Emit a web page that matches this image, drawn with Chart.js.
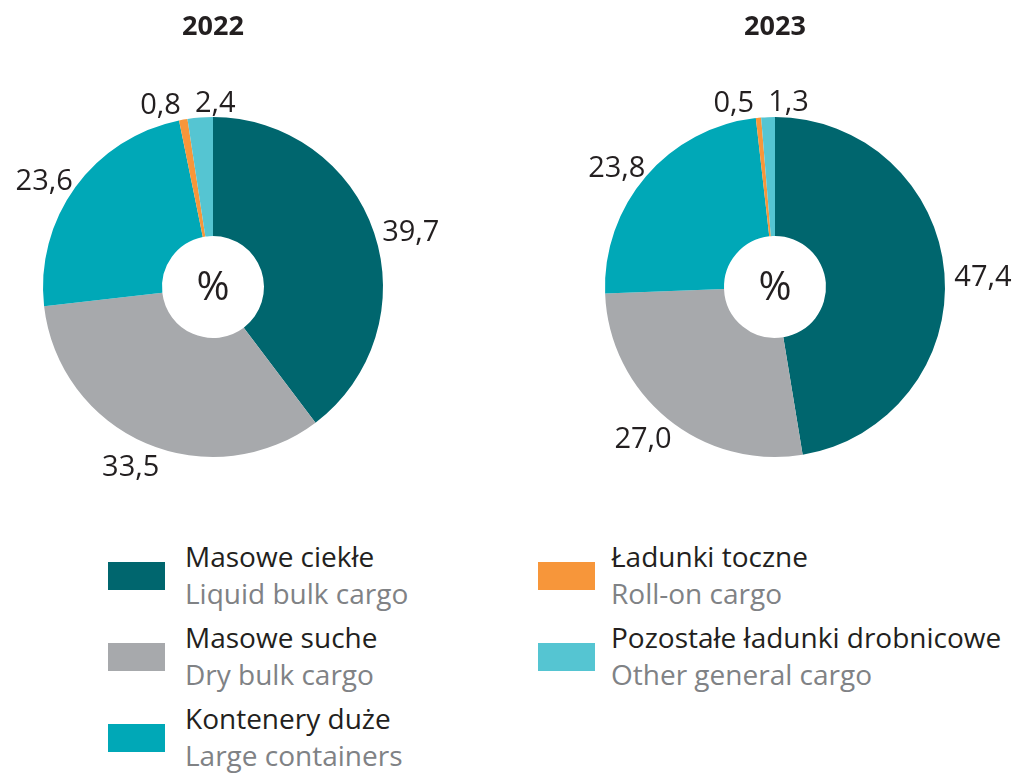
<!DOCTYPE html>
<html>
<head>
<meta charset="utf-8">
<script src="https://cdn.jsdelivr.net/npm/chart.js@4"></script>
<style>
  body { margin: 0; background: #fff; font-family: "Open Sans", Lato, sans-serif; }
  #wrap { position: relative; width: 1017px; height: 773px; overflow: hidden; }
  canvas { position: absolute; top: 0; }
  .title { position: absolute; top: 6px; width: 200px; text-align: center; font-weight: bold; font-size: 27px; color: #231f20; }
  .swatch { position: absolute; width: 57px; height: 28px; }
  .pl { position: absolute; white-space: nowrap; font-size: 28px; line-height: 38px; color: #231f20; }
  .en { position: absolute; white-space: nowrap; font-size: 28px; line-height: 38px; color: #808285; }
</style>
</head>
<body>
<div id="wrap">
  <canvas id="chart2022" width="470" height="520" style="left:0px"></canvas>
  <canvas id="chart2023" width="517" height="520" style="left:500px"></canvas>
  <div class="title" style="left:113px">2022</div>
  <div class="title" style="left:675px">2023</div>
  <div id="legend"></div>
</div>
<script>
const categoriesPl = ['Masowe ciekłe', 'Masowe suche', 'Kontenery duże', 'Ładunki toczne', 'Pozostałe ładunki drobnicowe'];
const categoriesEn = ['Liquid bulk cargo', 'Dry bulk cargo', 'Large containers', 'Roll-on cargo', 'Other general cargo'];
const colors = ['#00666e', '#a7a9ac', '#00a8b7', '#f7963a', '#55c5d2'];
const values2022 = [39.7, 33.5, 23.6, 0.8, 2.4];
const values2023 = [47.4, 27.0, 23.8, 0.5, 1.3];

const fmt = v => v.toFixed(1).replace('.', ',');

// labels outside the slices + "%" in the hole
const outsideLabels = {
    id: 'outsideLabels',
    afterDatasetsDraw(chart) {
        const ctx = chart.ctx;
        const meta = chart.getDatasetMeta(0);
        const data = chart.data.datasets[0].data;
        ctx.save();
        ctx.font = '29px "Open Sans", Lato, sans-serif';
        ctx.fillStyle = '#231f20';
        ctx.textAlign = 'center';
        ctx.textBaseline = 'middle';
        const boxes = meta.data.map((arc, i) => {
            const p = arc.getProps(['x', 'y', 'startAngle', 'endAngle', 'outerRadius'], true);
            const a = (p.startAngle + p.endAngle) / 2;
            const text = fmt(data[i]);
            const w = ctx.measureText(text).width;
            const h = 20;
            const r = p.outerRadius + 10;
            return {
                text, w, h,
                x: p.x + r * Math.cos(a) + Math.cos(a) * w / 2,
                y: p.y + r * Math.sin(a) + Math.sin(a) * h / 2 + 6
            };
        });
        // push overlapping labels apart sideways
        for (let k = 0; k < 3; k++) {
            for (let i = 0; i < boxes.length; i++) {
                for (let j = i + 1; j < boxes.length; j++) {
                    const A = boxes[i], B = boxes[j];
                    const need = (A.w + B.w) / 2 + 14;
                    const dx = B.x - A.x;
                    if (Math.abs(dx) < need && Math.abs(B.y - A.y) < A.h + 4) {
                        const shift = (need - Math.abs(dx)) / 2;
                        const s = dx >= 0 ? 1 : -1;
                        A.x -= s * shift;
                        B.x += s * shift;
                    }
                }
            }
        }
        boxes.forEach(b => ctx.fillText(b.text, b.x, b.y));
        const c = meta.data[0];
        ctx.font = '40px "Open Sans", Lato, sans-serif';
        ctx.fillText('%', c.x, c.y + 2);
        ctx.restore();
    }
};

const addPie = (canvasId, values, padding) => {
    new Chart(document.getElementById(canvasId), {
        type: 'doughnut',
        data: {
            labels: categoriesPl,
            datasets: [{
                data: values,
                backgroundColor: colors,
                borderWidth: 0
            }]
        },
        options: {
            responsive: false,
            animation: false,
            cutout: '30%',
            layout: { padding: padding },
            plugins: {
                legend: { display: false },
                tooltip: { enabled: false }
            }
        },
        plugins: [outsideLabels]
    });
};

addPie('chart2022', values2022, { left: 43, right: 87, top: 117, bottom: 63 });
addPie('chart2023', values2023, { left: 105, right: 72, top: 117, bottom: 63 });

// legend built from the category arrays
const legendPos = [
    { x: 108, y: 0 }, { x: 108, y: 1 }, { x: 108, y: 2 },
    { x: 538, y: 0 }, { x: 538, y: 1 }
];
const legend = document.getElementById('legend');
categoriesPl.forEach((name, i) => {
    const top = 537 + legendPos[i].y * 81;
    const left = legendPos[i].x;
    const textLeft = left + (i < 3 ? 77 : 73);
    legend.insertAdjacentHTML('beforeend',
        `<div class="swatch" style="left:${left}px;top:${top + 25}px;background:${colors[i]}"></div>` +
        `<div class="pl" style="left:${textLeft}px;top:${top}px">${name}</div>` +
        `<div class="en" style="left:${textLeft}px;top:${top + 37}px">${categoriesEn[i]}</div>`);
});
</script>
</body>
</html>
